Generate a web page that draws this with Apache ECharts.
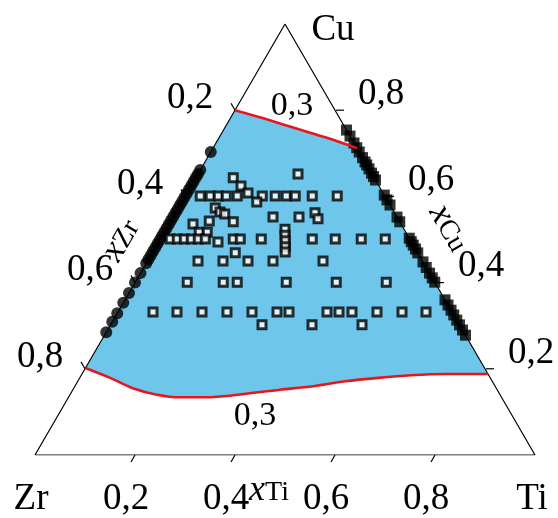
<!DOCTYPE html>
<html><head><meta charset="utf-8">
<script src="https://cdn.jsdelivr.net/npm/echarts@6/dist/echarts.min.js"></script>
<style>html,body{margin:0;padding:0;background:#fff}#c{width:558px;height:518px}</style>
</head><body><div id="c"></div>
<script>
// ---- data (ternary compositions: [xTi, xCu], xZr = 1 - xTi - xCu) ----
const tickValues = [0.2, 0.4, 0.6, 0.8];
const tickLabels = ['0,2', '0,4', '0,6', '0,8'];
const cornerLabels = ['Zr', 'Cu', 'Ti'];
const curveLabel = '0,3';
// upper isoline "0,3"
const upperCurve = [[0, 0.800], [0.070, 0.780], [0.152, 0.755], [0.212, 0.737], [0.288, 0.712]];
// lower isoline "0,3"
const lowerCurve = [[0, 0.202], [0.061, 0.179], [0.118, 0.155], [0.174, 0.140], [0.223, 0.134],
  [0.277, 0.134], [0.327, 0.1385], [0.414, 0.1515], [0.472, 0.159], [0.5345, 0.171],
  [0.597, 0.179], [0.6595, 0.185], [0.726, 0.188], [0.812, 0.188]];
// filled circles on the Zr–Cu side (xTi = 0): xCu values
const zrCuEdgeCu = [0.703, 0.661, 0.652, 0.643, 0.634, 0.625, 0.616, 0.607, 0.598, 0.589, 0.580,
  0.571, 0.562, 0.553, 0.544, 0.535, 0.526, 0.517, 0.508, 0.499, 0.490, 0.481, 0.472, 0.463,
  0.454, 0.445, 0.422, 0.400, 0.376, 0.353, 0.329, 0.309, 0.285];
// filled squares on the Cu–Ti side (xZr = 0): xCu values
const cuTiEdgeCu = [0.754, 0.740, 0.724, 0.713, 0.703, 0.690, 0.680, 0.673, 0.664, 0.654, 0.646,
  0.638, 0.603, 0.592, 0.580, 0.552, 0.541, 0.503, 0.495, 0.487, 0.478, 0.469, 0.448, 0.435,
  0.422, 0.411, 0.401, 0.360, 0.348, 0.336, 0.325, 0.313, 0.302, 0.290, 0.278];
// open squares inside: [xTi, xCu]
const openPoints = [
  [0.200, 0.652], [0.075, 0.643], [0.100, 0.624], [0.122, 0.608],
  [0.030, 0.601], [0.050, 0.601], [0.066, 0.601], [0.082, 0.601], [0.104, 0.601], [0.154, 0.601],
  [0.180, 0.601], [0.202, 0.601], [0.220, 0.601], [0.254, 0.601], [0.304, 0.601],
  [0.150, 0.587], [0.074, 0.573], [0.088, 0.564], [0.100, 0.559], [0.279, 0.562],
  [0.200, 0.552], [0.252, 0.552], [0.292, 0.548], [0.126, 0.541], [0.077, 0.543], [0.048, 0.536],
  [0.070, 0.517], [0.086, 0.517],
  [0.020, 0.501], [0.034, 0.501], [0.048, 0.501], [0.062, 0.501], [0.076, 0.501], [0.090, 0.501],
  [0.146, 0.501], [0.160, 0.501], [0.202, 0.501], [0.304, 0.501], [0.350, 0.501], [0.402, 0.501],
  [0.450, 0.501], [0.119, 0.494],
  [0.238, 0.524], [0.245, 0.510], [0.252, 0.497], [0.259, 0.483], [0.265, 0.471],
  [0.166, 0.469],
  [0.101, 0.450], [0.151, 0.450], [0.201, 0.450], [0.251, 0.450], [0.351, 0.450],
  [0.104, 0.401], [0.176, 0.401], [0.204, 0.401], [0.302, 0.401], [0.402, 0.401], [0.502, 0.401],
  [0.070, 0.332], [0.118, 0.332], [0.168, 0.332], [0.218, 0.332], [0.268, 0.332], [0.318, 0.332],
  [0.342, 0.332], [0.418, 0.332], [0.442, 0.332], [0.468, 0.332], [0.518, 0.332], [0.568, 0.332],
  [0.616, 0.332],
  [0.303, 0.302], [0.403, 0.302], [0.503, 0.302]
];

// ---- helpers ----
const toXY = p => [p[0] + p[1] / 2, p[1]];
const RED = '#E8161C';
const BLUE = '#6EC6EA';

const fillPoly = upperCurve.concat(lowerCurve.slice().reverse()).map(toXY);
const triangle = [[0, 0], [0, 1], [1, 0], [0, 0]].map(toXY);

// tick items: [xTi, xCu, side, labelIndex]
const tickItems = [];
tickValues.forEach((t, i) => {
  tickItems.push([t, 0, 0, i]);          // bottom: xTi
  tickItems.push([0, 1 - t, 1, i]);      // left: xZr
  tickItems.push([1 - t, t, 2, i]);      // right: xCu
});
const tickDir = [[-0.5, 0.866], [-0.5, -0.866], [1, 0]];
const tickStart = [0, 0, 1];
const tickLen = 8;
const labelOff = [[-9, 44], [-45, -12], [46, -16]];

function axisName(sub, x, y, rot) {
  return {
    type: 'text', x: x, y: y, rotation: rot,
    style: {
      text: '{i|x}{s|' + sub + '}', align: 'center', verticalAlign: 'middle', fill: '#000',
      rich: {
        i: {font: 'italic 36px "Liberation Serif", serif', fill: '#000'},
        s: {font: '28px "Liberation Serif", serif', fill: '#000', padding: [4, 0, 0, 0]}
      }
    }
  };
}

const chart = echarts.init(document.getElementById('c'), null, {renderer: 'canvas'});
chart.setOption({
  animation: false,
  backgroundColor: '#fff',
  grid: {left: 35, top: 24, width: 500, height: 431},
  xAxis: {type: 'value', min: 0, max: 1, show: false},
  yAxis: {type: 'value', min: 0, max: 1, show: false},
  series: [
    {
      type: 'custom', silent: true, data: [0],
      renderItem: (params, api) => ({
        type: 'polygon',
        shape: {points: fillPoly.map(p => api.coord(p))},
        style: {fill: BLUE, stroke: null}
      })
    },
    {
      type: 'line', data: triangle, symbol: 'none', silent: true,
      lineStyle: {color: '#000', width: 1.2}
    },
    {
      type: 'custom', silent: true,
      data: tickItems,
      renderItem: (params, api) => {
        const p = api.coord(toXY([api.value(0), api.value(1)]));
        const s = api.value(2);
        const d = tickDir[s];
        const x0 = p[0] + tickStart[s], y0 = p[1];
        const lo = labelOff[s];
        return {
          type: 'group',
          children: [
            {type: 'line', shape: {x1: x0, y1: y0, x2: x0 + d[0] * tickLen, y2: y0 + d[1] * tickLen},
             style: {stroke: '#000', lineWidth: 1.2}},
            {type: 'text', x: p[0] + lo[0], y: p[1] + lo[1],
             style: {text: tickLabels[api.value(3)], font: '37px "Liberation Serif", serif', fill: '#000',
                     align: 'center', verticalAlign: 'middle'}}
          ]
        };
      }
    },
    {
      type: 'line', data: upperCurve.map(toXY), symbol: 'none', smooth: 0.3, silent: true,
      lineStyle: {color: RED, width: 2.6}
    },
    {
      type: 'line', data: lowerCurve.map(toXY), symbol: 'none', smooth: 0.3, silent: true,
      lineStyle: {color: RED, width: 2.6}
    },
    {
      type: 'scatter', data: zrCuEdgeCu.map(c => toXY([0, c])), symbol: 'circle', symbolSize: 12,
      itemStyle: {color: '#000'}, silent: true
    },
    {
      type: 'scatter', data: cuTiEdgeCu.map(c => toXY([1 - c, c])), symbol: 'rect', symbolSize: 11,
      itemStyle: {color: '#000'}, silent: true
    },
    {
      type: 'scatter', data: openPoints.map(toXY), symbol: 'rect', symbolSize: 8,
      itemStyle: {color: '#fff', borderColor: '#000', borderWidth: 3}, silent: true
    }
  ],
  graphic: [
    {type: 'text', x: 333, y: 30, style: {text: cornerLabels[1], font: '37px "Liberation Serif", serif', fill: '#000', align: 'center', verticalAlign: 'middle'}},
    {type: 'text', x: 31, y: 499, style: {text: cornerLabels[0], font: '37px "Liberation Serif", serif', fill: '#000', align: 'center', verticalAlign: 'middle'}},
    {type: 'text', x: 532, y: 499, style: {text: cornerLabels[2], font: '37px "Liberation Serif", serif', fill: '#000', align: 'center', verticalAlign: 'middle'}},
    {type: 'text', x: 292, y: 106, style: {text: curveLabel, font: '34px "Liberation Serif", serif', fill: '#000', align: 'center', verticalAlign: 'middle'}},
    {type: 'text', x: 255, y: 416, style: {text: curveLabel, font: '34px "Liberation Serif", serif', fill: '#000', align: 'center', verticalAlign: 'middle'}},
    axisName('Zr', 121, 240, Math.PI / 3),
    axisName('Cu', 449, 228, -Math.PI / 3),
    axisName('Ti', 269, 491, 0)
  ]
});
</script>
</body></html>
